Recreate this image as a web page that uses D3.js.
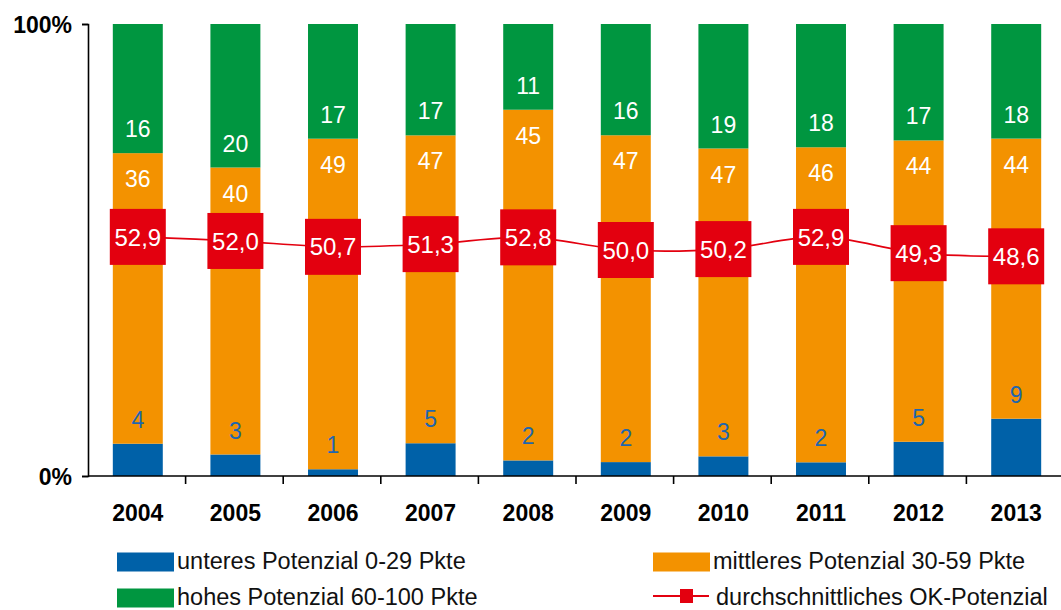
<!DOCTYPE html>
<html>
<head>
<meta charset="utf-8">
<script src="https://cdn.jsdelivr.net/npm/d3@7/dist/d3.min.js"></script>
<style>
  html, body { margin: 0; padding: 0; background: #fff; }
  svg { display: block; font-family: "Liberation Sans", Arial, sans-serif; }
</style>
</head>
<body>
<svg id="chart" width="1061" height="610"></svg>
<script>
const years = ["2004","2005","2006","2007","2008","2009","2010","2011","2012","2013"];
const lower = [4, 3, 1, 5, 2, 2, 3, 2, 5, 9];
const middle = [36, 40, 49, 47, 45, 47, 47, 46, 44, 44];
const high = [16, 20, 17, 17, 11, 16, 19, 18, 17, 18];
const avg = [52.9, 52.0, 50.7, 51.3, 52.8, 50.0, 50.2, 52.9, 49.3, 48.6];
const yTicks = [0, 1];
const yTickLabels = ["0%", "100%"];
const seriesNames = ["unteres Potenzial 0-29 Pkte", "mittleres Potenzial 30-59 Pkte", "hohes Potenzial 60-100 Pkte", "durchschnittliches OK-Potenzial"];

const colors = { lower: "#0061a8", middle: "#f39200", high: "#009640", red: "#e3000f", blueText: "#1f66ad" };

const svg = d3.select("#chart");
const x0 = 88, step = 97.6;
const x = d3.scaleBand().domain(years).range([x0 + 1, x0 + 1 + step * years.length]).paddingInner(0.488).paddingOuter(0.244);
const y = d3.scaleLinear().domain([0, 1]).range([476, 24]);

const table = years.map((yr, i) => ({ year: yr, lower: lower[i], middle: middle[i], high: high[i], avg: avg[i] }));
const stack = d3.stack().keys(["lower", "middle", "high"]).offset(d3.stackOffsetExpand);
const stacked = stack(table);

// bars
svg.append("g").selectAll("g").data(stacked).join("g")
  .attr("fill", d => colors[d.key])
  .selectAll("rect").data(d => d).join("rect")
  .attr("x", d => x(d.data.year))
  .attr("width", x.bandwidth())
  .attr("y", d => y(d[1]))
  .attr("height", d => y(d[0]) - y(d[1]));

// segment labels
const font = 23;
const labels = svg.append("g").attr("font-size", font).attr("text-anchor", "middle");
stacked[0].forEach(d => {
  labels.append("text").attr("x", x(d.data.year) + x.bandwidth() / 2).attr("y", y(d[1]) - 24).attr("dy", "0.35em")
    .attr("fill", colors.blueText).text(d.data.lower);
});
stacked[1].forEach(d => {
  labels.append("text").attr("x", x(d.data.year) + x.bandwidth() / 2).attr("y", y(d[1]) + 26).attr("dy", "0.35em")
    .attr("fill", "#fff").text(d.data.middle);
});
stacked[2].forEach(d => {
  labels.append("text").attr("x", x(d.data.year) + x.bandwidth() / 2).attr("y", y(d[0]) - 24).attr("dy", "0.35em")
    .attr("fill", "#fff").text(d.data.high);
});

// axes
const yAxis = d3.axisLeft(y).tickValues(yTicks).tickFormat((d, i) => yTickLabels[i]).tickSize(6).tickPadding(10);
const gy = svg.append("g").attr("transform", `translate(${x0},0)`).call(yAxis);
gy.select(".domain").attr("stroke", "#000").attr("stroke-width", 1.6);
gy.selectAll(".tick line").attr("stroke", "#000").attr("stroke-width", 1.6);
gy.selectAll(".tick text").attr("font-size", font).attr("font-weight", "bold").attr("fill", "#000")
  .attr("font-family", "'Liberation Sans', Arial, sans-serif").attr("dy", "0.36em");

svg.append("line").attr("x1", x0).attr("x2", 1061).attr("y1", y(0)).attr("y2", y(0))
  .attr("stroke", "#000").attr("stroke-width", 1.6);
const bounds = d3.range(1, years.length + 1).map(i => x0 + step * i);
svg.append("g").selectAll("line").data(bounds).join("line")
  .attr("x1", d => d).attr("x2", d => d).attr("y1", y(0)).attr("y2", y(0) + 8)
  .attr("stroke", "#000").attr("stroke-width", 1.6);
svg.append("g").attr("font-size", font).attr("font-weight", "bold").attr("text-anchor", "middle")
  .selectAll("text").data(years).join("text")
  .attr("x", d => x(d) + x.bandwidth() / 2).attr("y", 513).attr("dy", "0.35em").attr("fill", "#000").text(d => d);

// average line
const cx = d => x(d.year) + x.bandwidth() / 2;
const cy = d => y(d.avg / 100);
const line = d3.line().x(cx).y(cy).curve(d3.curveCatmullRom.alpha(0.5));
svg.append("path").datum(table).attr("d", line).attr("fill", "none").attr("stroke", colors.red).attr("stroke-width", 1.6);
const fmt = d3.formatLocale({ decimal: ",", thousands: ".", grouping: [3], currency: ["", "€"] }).format(".1f");
const box = 56;
const mk = svg.append("g").selectAll("g").data(table).join("g")
  .attr("transform", d => `translate(${cx(d)},${cy(d)})`);
mk.append("rect").attr("x", -box / 2).attr("y", -box / 2).attr("width", box).attr("height", box).attr("fill", colors.red);
mk.append("text").attr("text-anchor", "middle").attr("dy", "0.36em").attr("font-size", 24).attr("fill", "#fff").text(d => fmt(d.avg));

// legend
const leg = svg.append("g").attr("font-size", 23.5).attr("fill", "#111");
const legItems = [
  { name: seriesNames[0], type: "rect", color: colors.lower, x: 117, y: 562 },
  { name: seriesNames[1], type: "rect", color: colors.middle, x: 653, y: 562 },
  { name: seriesNames[2], type: "rect", color: colors.high, x: 117, y: 598 },
  { name: seriesNames[3], type: "line", color: colors.red, x: 653, y: 596 }
];
legItems.forEach(it => {
  if (it.type === "rect") {
    leg.append("rect").attr("x", it.x).attr("y", it.y - 9.5).attr("width", 57).attr("height", 19).attr("fill", it.color);
  } else {
    leg.append("line").attr("x1", it.x).attr("x2", it.x + 56).attr("y1", it.y).attr("y2", it.y).attr("stroke", it.color).attr("stroke-width", 1.8);
    leg.append("rect").attr("x", it.x + 27).attr("y", it.y - 7).attr("width", 13).attr("height", 14).attr("fill", it.color);
  }
  leg.append("text").attr("x", it.x + (it.type === "rect" ? 60 : 63)).attr("y", it.type === "rect" ? it.y - 1 : it.y + 1).attr("dy", "0.35em").text(it.name);
});
</script>
</body>
</html>
